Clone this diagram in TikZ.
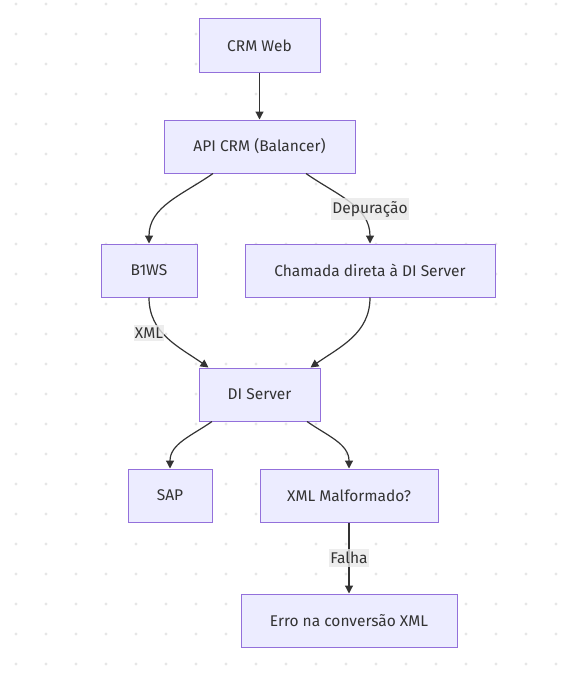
\documentclass[tikz,border=0pt]{standalone}
\usepackage{fontspec}
\setmainfont{Fira Sans}
\usetikzlibrary{arrows.meta}

\definecolor{boxfill}{HTML}{ECECFF}
\definecolor{boxline}{HTML}{9370DB}
\definecolor{textc}{HTML}{333333}
\definecolor{edgec}{HTML}{333333}
\definecolor{lblfill}{HTML}{E8E8E8}
\definecolor{dotc}{HTML}{E6E6E6}

\tikzset{
  box/.style={draw=boxline, fill=boxfill, line width=1pt, minimum height=53pt,
    text=textc, font=\fontsize{15.5}{19}\selectfont, inner sep=0pt},
  flow/.style={draw=edgec, line width=1.2pt, -{Triangle[length=8pt,width=8pt]}},
  lbl/.style={fill=lblfill, fill opacity=0.8, text opacity=1, text=textc,
    font=\fontsize{15.5}{19}\selectfont, inner xsep=1pt, inner ysep=3pt}
}

\begin{document}
\begin{tikzpicture}[x=1pt, y=-1pt]

\useasboundingbox (0,0) rectangle (575,685);

% ======================
% Background dots
% ======================
\foreach \i in {0,...,18}{
  \foreach \j in {0,...,22}{
    \fill[dotc] ({16+30*\i},{4+30*\j}) circle (1.6pt);
  }
}

% ======================
% Nodes
% ======================
\node[box, minimum width=121pt] (crm) at (259.5,45.5) {CRM Web};
\node[box, minimum width=191pt] (api) at (259.5,146.5) {API CRM (Balancer)};
\node[box, minimum width=96pt] (b1ws) at (149,270.5) {B1WS};
\node[box, minimum width=250pt] (direta) at (370,270.5) {Chamada direta à DI Server};
\node[box, minimum width=121pt] (di) at (259.5,394.5) {DI Server};
\node[box, minimum width=84pt] (sap) at (170,495.5) {SAP};
\node[box, minimum width=178pt] (malf) at (349,495.5) {XML Malformado?};
\node[box, minimum width=216pt] (erro) at (349,620.5) {Erro na conversão XML};

% ======================
% Connectors
% ======================
\draw[flow] (crm.south) -- (api.north);
\draw[flow] ([xshift=-46.5pt]api.south) to[out=-145, in=90] (b1ws.north);
\draw[flow] ([xshift=46.5pt]api.south) to[out=-35, in=90] (direta.north);
\draw[flow] (b1ws.south) to[out=-90, in=145] ([xshift=-51pt]di.north);
\draw[flow] (direta.south) to[out=-90, in=35] ([xshift=51pt]di.north);
\draw[flow] ([xshift=-47.5pt]di.south) to[out=-145, in=90] (sap.north);
\draw[flow] ([xshift=47.5pt]di.south) to[out=-35, in=90] (malf.north);
\draw[flow] (malf.south) -- (erro.north);

% ======================
% Edge labels
% ======================
\node[lbl] (ldep) at (370,209) {Depuração};
\node[lbl] (lxml) at (149,333) {XML};
\node[lbl] (lfalha) at (349,558) {Falha};

\end{tikzpicture}
\end{document}
